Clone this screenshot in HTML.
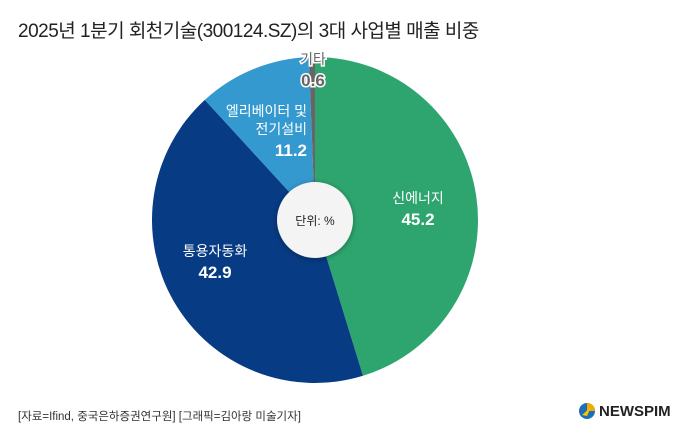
<!DOCTYPE html>
<html><head><meta charset="utf-8"><style>
body{margin:0;width:680px;height:442px;background:#fff;overflow:hidden;font-family:"Liberation Sans","Noto Sans CJK KR",sans-serif}
.t{position:absolute;left:18px;top:16px;font-size:19px;color:#222;letter-spacing:-0.5px}
.src{position:absolute;left:18px;top:408px;font-size:11.5px;color:#333}
.logo{position:absolute;left:578px;top:402px;font-size:15px;font-weight:bold;color:#222;display:flex;align-items:center;gap:3px}
</style></head><body>
<div class="t">2025년 1분기 회천기술(300124.SZ)의 3대 사업별 매출 비중</div>
<svg id="c" width="680" height="442" style="position:absolute;left:0;top:0">
<defs><filter id="sh" x="-50%" y="-50%" width="200%" height="200%"><feDropShadow dx="0" dy="1" stdDeviation="3" flood-opacity="0.35"/></filter></defs>
</svg>
<div class="src">[자료=Ifind, 중국은하증권연구원] [그래픽=김아랑 미술기자]</div>
<div class="logo"><svg width="18" height="18"><circle cx="9" cy="9" r="8" fill="#1b6fb8"/><path d="M9 1 A8 8 0 0 1 17 9 L9 9Z" fill="#f2a900"/><path d="M4 13 L13 5 L9 14Z" fill="#f7c600"/></svg>NEWSPIM</div>
<script>
const categories=["신에너지","통용자동화","엘리베이터 및 전기설비","기타"];
const values=[45.2,42.9,11.2,0.6];
const colors=["#2ea56f","#073b84","#3499cf","#666666"];
const svg=document.getElementById('c');const NS="http://www.w3.org/2000/svg";
const cx=315,cy=220,r=163;
const total=values.reduce((a,b)=>a+b,0);
function pt(a,rr){return [cx+rr*Math.sin(a),cy-rr*Math.cos(a)];}
let a0=0;
const labelPos=[[418,215],[215,268],[258,136],[313,76]];
values.forEach((v,i)=>{
 const a1=a0+v/total*2*Math.PI;
 const [x0,y0]=pt(a0,r),[x1,y1]=pt(a1,r);
 const p=document.createElementNS(NS,'path');
 p.setAttribute('d',`M${cx},${cy}L${x0},${y0}A${r},${r} 0 ${a1-a0>Math.PI?1:0} 1 ${x1},${y1}Z`);
 p.setAttribute('fill',colors[i]);
 
 
 svg.appendChild(p);
 a0=a1;
});
const c=document.createElementNS(NS,'circle');
c.setAttribute('cx',cx);c.setAttribute('cy',cy);c.setAttribute('r',38);c.setAttribute('fill','#f4f4f4');c.setAttribute('filter','url(#sh)');


svg.appendChild(c);
const u=document.createElementNS(NS,'text');
u.setAttribute('x',cx);u.setAttribute('y',cy+5);u.setAttribute('text-anchor','middle');u.setAttribute('font-size','12');u.setAttribute('fill','#222');u.textContent='단위: %';


svg.appendChild(u);
function txt(x,y,s,size,bold,i,anchor){const t=document.createElementNS(NS,'text');t.setAttribute('x',x);t.setAttribute('y',y);t.setAttribute('text-anchor',anchor);t.setAttribute('font-size',size);if(bold)t.setAttribute('font-weight','bold');
 if(i===3){t.setAttribute('fill','#666');t.setAttribute('stroke','#fff');t.setAttribute('stroke-width','3');t.setAttribute('paint-order','stroke');}else t.setAttribute('fill','#fff');
 t.textContent=s;
 
 svg.appendChild(t);}
categories.forEach((n,i)=>{const [x,y]=labelPos[i];
 if(i===2){txt(x+49,y-20,'엘리베이터 및',14,false,i,'end');txt(x+49,y-2,'전기설비',14,false,i,'end');txt(x+49,y+20,values[i].toFixed(1),17,true,i,'end');}
 else{txt(x,y-12,n,14,false,i,'middle');txt(x,y+10,values[i].toFixed(1),17,true,i,'middle');}
});
</script>
</body></html>
